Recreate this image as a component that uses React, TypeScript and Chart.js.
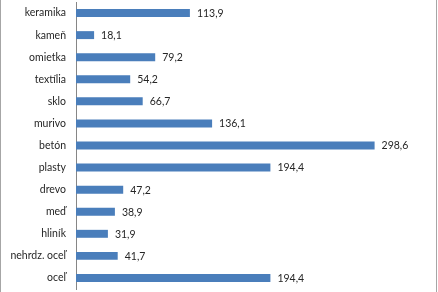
import React, { useEffect, useRef } from "react";
import { Chart, registerables } from "chart.js";

Chart.register(...registerables);

const categories = [
  "keramika",
  "kameň",
  "omietka",
  "textília",
  "sklo",
  "murivo",
  "betón",
  "plasty",
  "drevo",
  "meď",
  "hliník",
  "nehrdz. oceľ",
  "oceľ",
];
const values = [113.9, 18.1, 79.2, 54.2, 66.7, 136.1, 298.6, 194.4, 47.2, 38.9, 31.9, 41.7, 194.4];

const FONT = "Lato, 'Liberation Sans', sans-serif";

const labelPlugin = {
  id: "valueLabels",
  afterDatasetsDraw(chart: any) {
    const ctx = chart.ctx;
    const meta = chart.getDatasetMeta(0);
    ctx.save();
    ctx.font = `10.5px ${FONT}`;
    ctx.fillStyle = "#262626";
    ctx.textAlign = "left";
    ctx.textBaseline = "middle";
    meta.data.forEach((bar: any, i: number) => {
      const txt = values[i].toFixed(1).replace(".", ",");
      ctx.fillText(txt, bar.x + 7, bar.y + 0.5);
    });
    ctx.restore();
  },
};

const framePlugin = {
  id: "frame",
  afterDraw(chart: any) {
    const ctx = chart.ctx;
    ctx.save();
    ctx.strokeStyle = "#a6a6a6";
    ctx.lineWidth = 1;
    ctx.beginPath();
    ctx.moveTo(0.5, 0);
    ctx.lineTo(0.5, chart.height);
    ctx.moveTo(436.5, 0);
    ctx.lineTo(436.5, chart.height);
    ctx.stroke();
    ctx.restore();
  },
};

export default function App() {
  const ref = useRef<HTMLCanvasElement>(null);
  useEffect(() => {
    document.body.style.margin = "0";
    const chart = new Chart(ref.current!, {
      type: "bar",
      data: {
        labels: categories,
        datasets: [
          {
            data: values,
            backgroundColor: "#4a7ebb",
            borderColor: "#4f81bd",
            borderWidth: 0,
            barPercentage: 0.9,
            categoryPercentage: 0.4,
          },
        ],
      },
      options: {
        indexAxis: "y",
        animation: false,
        responsive: false,
        maintainAspectRatio: false,
        layout: { padding: { left: 0, right: 12, top: 2, bottom: 3 } },
        plugins: { legend: { display: false }, tooltip: { enabled: false } },
        scales: {
          x: { display: false, min: 0, max: 350 },
          y: {
            afterFit: (s: any) => {
              s.width = 76;
              s.paddingTop = 0;
              s.paddingBottom = 0;
            },
            grid: { display: false, drawTicks: false },
            border: { display: true, color: "#868686", width: 1 },
            ticks: {
              padding: 10,
              color: "#262626",
              font: { family: FONT, size: 10.5 },
            },
          },
        },
      },
      plugins: [labelPlugin, framePlugin],
    });
    return () => chart.destroy();
  }, []);
  return (
    <div style={{ width: 438, height: 292, background: "#fff" }}>
      <canvas ref={ref} width={438} height={292} style={{ display: "block" }} />
    </div>
  );
}
